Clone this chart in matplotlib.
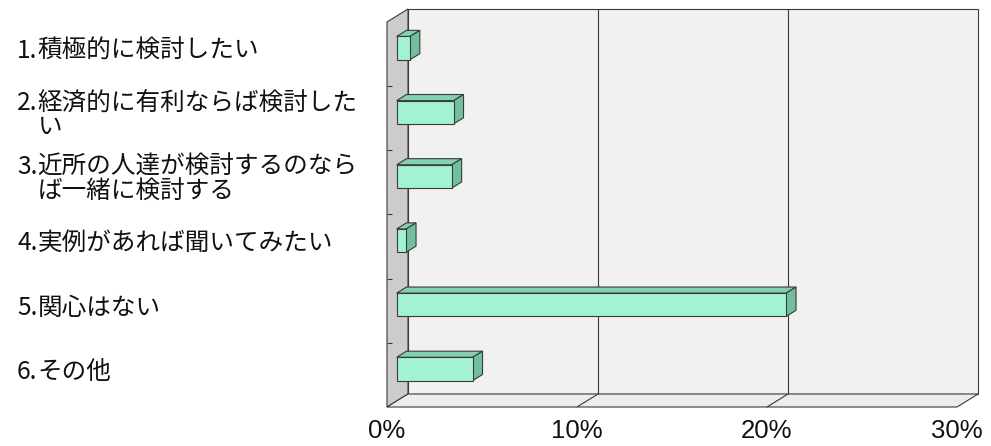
import matplotlib
matplotlib.use("Agg")
import matplotlib.pyplot as plt
from matplotlib.patches import Polygon
from matplotlib import transforms

# ---- data ----
numbers = ["1.", "2.", "3.", "4.", "5.", "6."]
categories = [
    "積極的に検討したい",
    "経済的に有利ならば検討した\nい",
    "近所の人達が検討するのなら\nば一緒に検討する",
    "実例があれば聞いてみたい",
    "関心はない",
    "その他",
]
values = [0.7, 3.0, 2.9, 0.5, 20.5, 4.0]
x_ticks = [0, 10, 20, 30]
x_labels = ["0%", "10%", "20%", "30%"]

# ---- styling ----
W, H, DPI = 991, 446, 100
EDGE = "#3a3a3a"
BACK_WALL = "#f1f1ef"
SIDE_WALL = "#cccccc"
FLOOR = "#ededeb"
BAR_FRONT = "#a4f2d4"
BAR_TOP = "#82d2b2"
BAR_SIDE = "#70c0a0"
JP_FONT = ["Noto Sans CJK JP", "DejaVu Sans"]
JP_SIZE = 17.7

fig = plt.figure(figsize=(W / DPI, H / DPI), dpi=DPI)
fig.patch.set_facecolor("white")

# front plane of the 3-D box, in pixels
left_px, right_px, top_px, bottom_px = 387, 957, 22, 407
ax = fig.add_axes([left_px / W, 1 - bottom_px / H,
                   (right_px - left_px) / W, (bottom_px - top_px) / H])
n = len(categories)
ax.set_xlim(0, 30)
ax.set_ylim(n, 0)
ax.set_facecolor("none")
for s in ax.spines.values():
    s.set_visible(False)

# depth direction expressed in data units (linear scales)
px_per_x = (right_px - left_px) / 30
px_per_y = (bottom_px - top_px) / n
DEPTH = (21 / px_per_x, -13 / px_per_y)


def proj(x, y, d):
    return (x + d * DEPTH[0], y + d * DEPTH[1])


def face(pts, fc, z, lw=0.8):
    ax.add_patch(Polygon([proj(*p) for p in pts], closed=True, fc=fc,
                         ec=EDGE, lw=lw, zorder=z, clip_on=False,
                         joinstyle="miter"))


def line(p0, p1, z, lw=0.8):
    a, b = proj(*p0), proj(*p1)
    ax.plot([a[0], b[0]], [a[1], b[1]], color=EDGE, lw=lw, zorder=z,
            clip_on=False, solid_capstyle="butt")


xmax = x_ticks[-1]
# walls and floor
face([(0, 0, 1), (xmax, 0, 1), (xmax, n, 1), (0, n, 1)], BACK_WALL, 1)
face([(0, 0, 0), (0, n, 0), (0, n, 1), (0, 0, 1)], SIDE_WALL, 1)
face([(0, n, 0), (xmax, n, 0), (xmax, n, 1), (0, n, 1)], FLOOR, 1)

# gridlines on back wall and floor
for t in x_ticks[1:-1]:
    line((t, 0, 1), (t, n, 1), 2)
    line((t, n, 0), (t, n, 1), 2)

# category ticks on the side wall
for k in range(1, n):
    line((0, k, 0), (0.27, k, 0), 2)

# 3-D bars
bar_h = 0.363
d_front, d_back = 0.46, 0.93
for i, v in enumerate(values):
    y0 = i + 0.5 - bar_h / 2
    y1 = i + 0.5 + bar_h / 2
    face([(0, y0, d_front), (v, y0, d_front), (v, y0, d_back), (0, y0, d_back)],
         BAR_TOP, 3)
    face([(v, y0, d_front), (v, y1, d_front), (v, y1, d_back), (v, y0, d_back)],
         BAR_SIDE, 3)
    face([(0, y0, d_front), (v, y0, d_front), (v, y1, d_front), (0, y1, d_front)],
         BAR_FRONT, 4)

# axis labels
ax.set_yticks([])
ax.set_xticks(x_ticks)
ax.set_xticklabels(x_labels, fontsize=18.5, family="Liberation Sans")
ax.tick_params(axis="x", length=0, pad=9, colors="#111111")

# category labels: number right-aligned, text left-aligned after it
lab_tr = transforms.blended_transform_factory(fig.transFigure, ax.transData)
x_split = 37.5 / W
for i, (num, cat) in enumerate(zip(numbers, categories)):
    nlines = cat.count("\n") + 1
    ax.text(x_split, i + 0.45, num + "\n " * (nlines - 1), transform=lab_tr,
            ha="right", va="center", fontsize=JP_SIZE, family=JP_FONT,
            linespacing=0.92, color="#111111")
    ax.text(x_split, i + 0.45, cat, transform=lab_tr, ha="left", va="center",
            fontsize=JP_SIZE, family=JP_FONT, linespacing=0.92,
            color="#111111")

fig.savefig("out.png", dpi=DPI)
